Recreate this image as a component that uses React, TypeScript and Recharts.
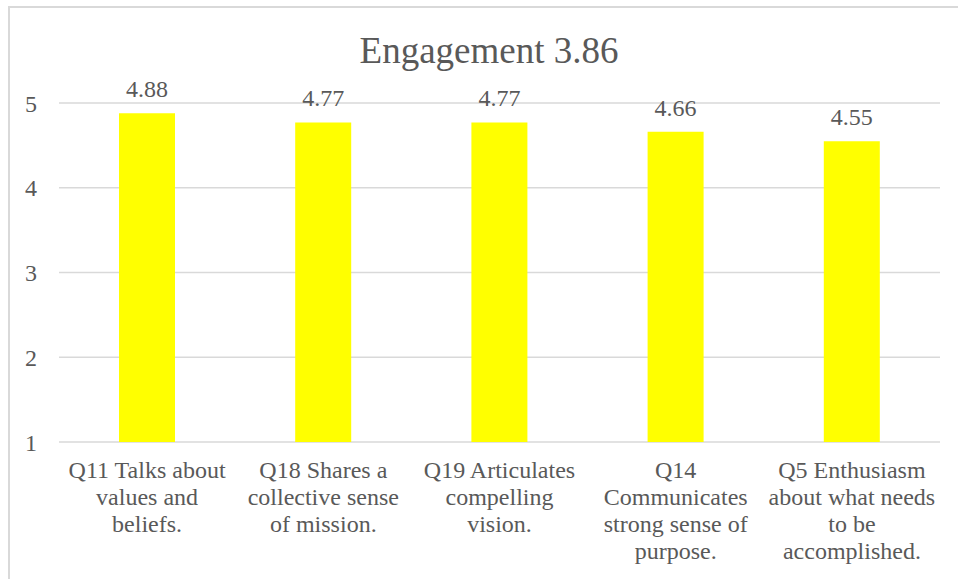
import { BarChart, Bar, XAxis, YAxis, CartesianGrid, LabelList } from 'recharts';

const categories = [
  'Q11 Talks about\nvalues and\nbeliefs.',
  'Q18 Shares a\ncollective sense\nof mission.',
  'Q19 Articulates\ncompelling\nvision.',
  'Q14\nCommunicates\nstrong sense of\npurpose.',
  'Q5 Enthusiasm\nabout what needs\nto be\naccomplished.',
];
const scores = [4.88, 4.77, 4.77, 4.66, 4.55];
const yTicks = [1, 2, 3, 4, 5];

const data = categories.map((name, i) => ({ name, score: scores[i] }));

const FONT = '"Liberation Serif", "Times New Roman", serif';
const TEXT = '#595959';
const GRID = '#d9d9d9';

// svg text kept picking up a sans face, so force it with a stylesheet
const css = `.chart-box svg text, .chart-box svg tspan { font-family: "Liberation Serif", "Times New Roman", serif !important; }`;

function CategoryTick({ x, y, payload }: any) {
  const lines = String(payload.value).split('\n');
  return (
    <text x={x} y={y + 36} textAnchor="middle" fill={TEXT} fontSize={24}>
      {lines.map((line, i) => (
        <tspan key={i} x={x} dy={i === 0 ? 0 : 27}>
          {line}
        </tspan>
      ))}
    </text>
  );
}

export default function App() {
  return (
    <div
      className="chart-box"
      style={{
        position: 'fixed',
        left: 0,
        top: 0,
        width: 958,
        height: 579,
        overflow: 'hidden',
        background: '#fff',
        fontFamily: FONT,
      }}
    >
      <style>{css}</style>
      <div
        style={{
          position: 'absolute',
          left: 8,
          top: 6,
          width: 1000,
          height: 1000,
          border: `2px solid ${GRID}`,
        }}
      />
      <div
        style={{
          position: 'absolute',
          left: 0,
          top: 32,
          width: 978,
          textAlign: 'center',
          fontSize: 37,
          lineHeight: '37px',
          color: TEXT,
        }}
      >
        Engagement 3.86
      </div>
      <div style={{ position: 'absolute', left: 0, top: 0 }}>
        <BarChart width={958} height={579} data={data} margin={{ top: 103, right: 18, bottom: 0, left: 0 }}>
          <CartesianGrid horizontal vertical={false} stroke={GRID} strokeWidth={1.5} />
          <XAxis
            dataKey="name"
            height={137}
            axisLine={false}
            tickLine={false}
            tickSize={0}
            tickMargin={0}
            interval={0}
            tick={<CategoryTick />}
          />
          <YAxis
            domain={[1, 5]}
            ticks={yTicks}
            width={59}
            axisLine={false}
            tickLine={false}
            tickSize={0}
            tickMargin={22}
            tick={{ fill: TEXT, fontSize: 24 }}
          />
          <Bar dataKey="score" fill="#FFFF00" barSize={56} isAnimationActive={false}>
            <LabelList
              dataKey="score"
              position="top"
              offset={16}
              fill={TEXT}
              fontSize={24}
              formatter={(v: any) => Number(v).toFixed(2)}
            />
          </Bar>
        </BarChart>
      </div>
    </div>
  );
}
